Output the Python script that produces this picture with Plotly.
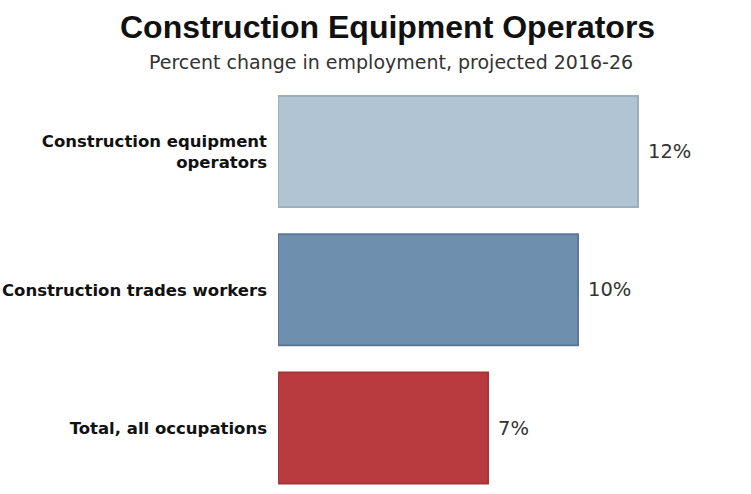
import plotly.graph_objects as go

categories = ["Construction equipment<br>operators", "Construction trades workers", "Total, all occupations"]
values = [12, 10, 7]
labels = ["12%", "10%", "7%"]
fill_colors = ["#b1c4d4", "#6e8fad", "#b93a3f"]
line_colors = ["#9aaebf", "#5b7896", "#a8343a"]

fig = go.Figure()
fig.add_trace(go.Bar(
    x=values, y=categories, orientation="h",
    marker=dict(color=fill_colors, line=dict(color=line_colors, width=2)),
    hoverinfo="skip", showlegend=False,
))
for v, c, t in zip(values, categories, labels):
    fig.add_annotation(x=v, y=c, text=t, showarrow=False, xanchor="left", xshift=8,
                       font=dict(family="DejaVu Sans", size=19.5, color="#333333"))

fig.update_layout(
    width=751, height=494,
    margin=dict(l=278, r=23, t=82, b=0),
    paper_bgcolor="white", plot_bgcolor="white",
    bargap=0.197,
    xaxis=dict(range=[0, 15], visible=False, fixedrange=True),
    yaxis=dict(range=[2.477, -0.503], showgrid=False, zeroline=False, showline=False,
               ticks="", ticklabelstandoff=10,
               tickfont=dict(family="DejaVu Sans", size=16.5, color="#111111", weight="bold")),
    annotations=list(fig.layout.annotations) + [
        dict(text="<b>Construction Equipment Operators</b>", xref="paper", yref="paper",
             x=(387 - 278) / 450, y=1, yshift=55, showarrow=False, xanchor="center", yanchor="middle",
             font=dict(family="Liberation Sans", size=32, color="#111111")),
        dict(text="Percent change in employment, projected 2016-26", xref="paper", yref="paper",
             x=(391 - 278) / 450, y=1, yshift=20, showarrow=False, xanchor="center", yanchor="middle",
             font=dict(family="DejaVu Sans", size=19, color="#333333")),
    ],
)
fig.write_html("out.html")
